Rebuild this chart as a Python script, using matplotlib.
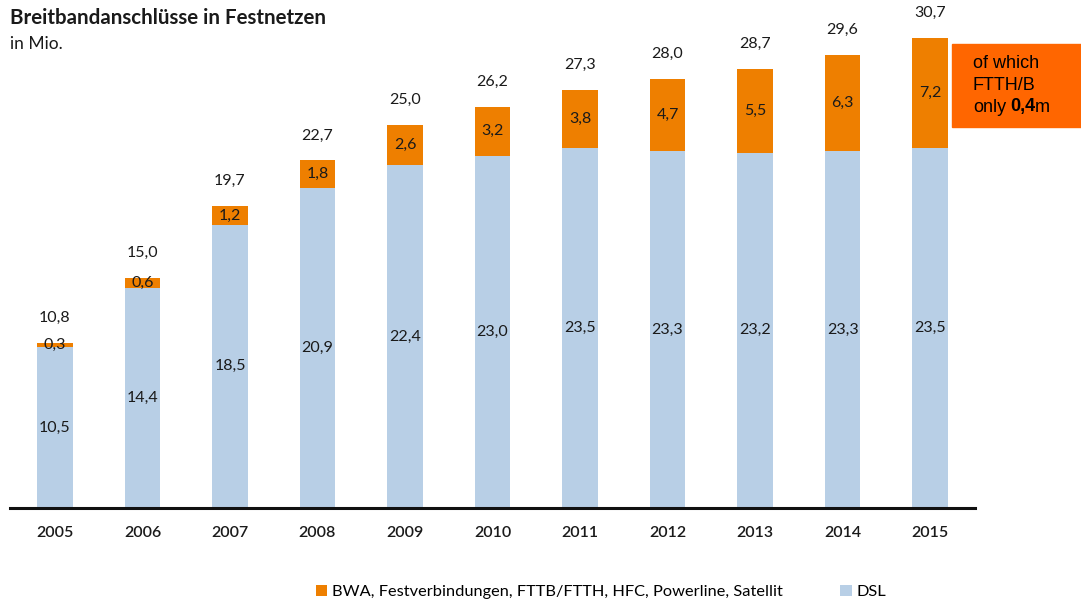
import matplotlib.pyplot as plt
from matplotlib.patches import Rectangle

plt.rcParams['font.family'] = ['Lato', 'DejaVu Sans']

years = ['2005', '2006', '2007', '2008', '2009', '2010', '2011', '2012', '2013', '2014', '2015']
dsl = [10.5, 14.4, 18.5, 20.9, 22.4, 23.0, 23.5, 23.3, 23.2, 23.3, 23.5]
other = [0.3, 0.6, 1.2, 1.8, 2.6, 3.2, 3.8, 4.7, 5.5, 6.3, 7.2]
totals = [10.8, 15.0, 19.7, 22.7, 25.0, 26.2, 27.3, 28.0, 28.7, 29.6, 30.7]

blue = '#b8cfe6'
orange = '#ee7f00'
txt = '#1a1a1a'

def de(v):
    return f'{v:.1f}'.replace('.', ',')

fig = plt.figure(figsize=(10.81, 6.07), dpi=100)
ax = fig.add_axes([10 / 1081, 99 / 607, 965 / 1081, 490 / 607])

x = list(range(len(years)))
w = 0.41
b1 = ax.bar(x, dsl, width=w, color=blue, label='DSL')
b2 = ax.bar(x, other, width=w, bottom=dsl, color=orange,
            label='BWA, Festverbindungen, FTTB/FTTH, HFC, Powerline, Satellit')

for i in x:
    ax.text(i, dsl[i] / 2, de(dsl[i]), ha='center', va='center', fontsize=11.5, color=txt)
    ax.text(i, dsl[i] + other[i] / 2, de(other[i]), ha='center', va='center', fontsize=11.5, color=txt)
    ax.annotate(de(totals[i]), (i, totals[i]), xytext=(0, 18), textcoords='offset points',
                ha='center', va='center', fontsize=11.5, color=txt)

ax.set_xlim(-0.514, 10.514)
ax.set_ylim(0, 32)
ax.set_xticks(x)
ax.set_xticklabels(years, fontsize=11.5, fontweight='semibold', color=txt)
ax.tick_params(axis='x', length=0, pad=13)
ax.set_yticks([])
for s in ['top', 'right', 'left']:
    ax.spines[s].set_visible(False)
ax.spines['bottom'].set_linewidth(2.2)
ax.spines['bottom'].set_color('#111111')

fig.text(10 / 1081, 1 - 18 / 607, 'Breitbandanschlüsse in Festnetzen', fontsize=14.8,
         fontweight='bold', va='center', ha='left', color=txt)
fig.text(10 / 1081, 1 - 44 / 607, 'in Mio.', fontsize=12.5, va='center', ha='left', color=txt)

# orange note box
fig.patches.append(Rectangle((952 / 1081, 1 - 127 / 607), 129 / 1081, 83 / 607,
                             transform=fig.transFigure, color='#ff6600', zorder=0))
note_font = dict(family=['Liberation Sans', 'DejaVu Sans'], fontsize=13, color='black')
fig.text(973 / 1081, 1 - 64 / 607, 'of which', va='center', ha='left', **note_font)
fig.text(973 / 1081, 1 - 86 / 607, 'FTTH/B', va='center', ha='left', **note_font)
t1 = fig.text(973 / 1081, 1 - 107 / 607, 'only', va='center', ha='left', **note_font)
t2 = fig.text(0, 0, '0,4', fontweight='bold', va='center', ha='left', **note_font)
t3 = fig.text(0, 0, 'm', va='center', ha='left', **note_font)
fig.canvas.draw()
r = fig.canvas.get_renderer()
bb = t1.get_window_extent(r)
t2.set_position(((bb.x1 + 4) / fig.bbox.width, 1 - 107 / 607))
bb2 = t2.get_window_extent(r)
t3.set_position((bb2.x1 / fig.bbox.width, 1 - 107 / 607))

fig.legend(handles=[b2, b1], loc='center', bbox_to_anchor=(0.556, 15 / 607), ncol=2,
           frameon=False, fontsize=11.8, handlelength=0.7, handleheight=0.7,
           handletextpad=0.3, columnspacing=3.5)

fig.savefig('out.png', dpi=100)
